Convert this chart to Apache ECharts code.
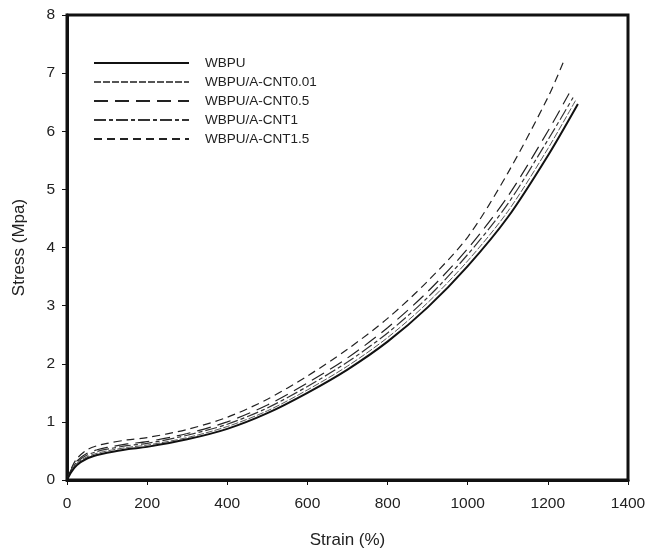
<!DOCTYPE html>
<html>
<head>
<meta charset="utf-8">
<script src="https://cdn.jsdelivr.net/npm/echarts@6/dist/echarts.min.js"></script>
<style>
  html, body { margin: 0; padding: 0; background: #fff; }
  #chart { width: 647px; height: 550px; }
</style>
</head>
<body>
<div id="chart"></div>
<script>
// strain points shared by every curve (%), the last point of each curve is its break strain
var strainBase = [0, 10, 25, 50, 75, 100, 150, 200, 300, 400, 500, 600, 700, 800, 900, 1000, 1100, 1200];
var breakStrain = [1275, 1270, 1253, 1263, 1238];

var names = ["WBPU", "WBPU/A-CNT0.01", "WBPU/A-CNT0.5", "WBPU/A-CNT1", "WBPU/A-CNT1.5"];

// stress (MPa)
var wbpu     = [0, 0.13, 0.26, 0.37, 0.43, 0.47, 0.53, 0.57, 0.70, 0.88, 1.15, 1.50, 1.90, 2.38, 2.97, 3.68, 4.52, 5.58, 6.47];
var cnt001   = [0, 0.15, 0.29, 0.40, 0.46, 0.50, 0.56, 0.60, 0.73, 0.92, 1.19, 1.55, 1.96, 2.45, 3.05, 3.77, 4.62, 5.70, 6.54];
var cnt05    = [0, 0.17, 0.33, 0.46, 0.52, 0.56, 0.62, 0.66, 0.80, 1.00, 1.29, 1.67, 2.10, 2.62, 3.24, 3.98, 4.88, 6.00, 6.65];
var cnt1     = [0, 0.16, 0.31, 0.43, 0.49, 0.53, 0.59, 0.63, 0.77, 0.96, 1.24, 1.61, 2.03, 2.53, 3.14, 3.88, 4.75, 5.85, 6.58];
var cnt15    = [0, 0.19, 0.37, 0.52, 0.59, 0.63, 0.69, 0.73, 0.87, 1.08, 1.39, 1.79, 2.25, 2.78, 3.42, 4.18, 5.28, 6.58, 7.18];

function pairs(stress, endStrain) {
  var xs = strainBase.concat([endStrain]);
  return stress.map(function (v, i) { return [xs[i], v]; });
}

var styles = [
  { width: 2, type: "solid", color: "#111" },
  { width: 1, type: [7, 2], color: "#555" },
  { width: 1.2, type: [14, 7], color: "#222" },
  { width: 1.2, type: [12, 3, 4, 3], color: "#333" },
  { width: 1.2, type: [8, 5], color: "#222" }
];
var allStress = [wbpu, cnt001, cnt05, cnt1, cnt15];

var font = "Liberation Sans, Arial, Helvetica, sans-serif";
var chart = echarts.init(document.getElementById("chart"));

chart.setOption({
  animation: false,
  backgroundColor: "#fff",
  grid: {
    left: 67,
    right: 19,
    top: 15,
    bottom: 70,
    outerBoundsMode: "none",
    containLabel: false,
    show: true,
    borderColor: "#111",
    borderWidth: 3
  },
  legend: {
    orient: "vertical",
    left: 88,
    top: 51,
    itemWidth: 95,
    itemHeight: 12,
    itemGap: 5,
    data: names,
    itemStyle: { opacity: 0 },
    textStyle: {
      fontFamily: font,
      fontSize: 13.5,
      color: "#222",
      padding: [0, 0, 0, 11]
    }
  },
  xAxis: {
    type: "value",
    min: 0,
    max: 1400,
    interval: 200,
    name: "Strain (%)",
    nameLocation: "middle",
    nameGap: 52,
    nameTextStyle: { fontFamily: font, fontSize: 17, color: "#222" },
    axisLine: { show: true, lineStyle: { color: "#111", width: 3 } },
    axisTick: { show: true, inside: false, length: 5, lineStyle: { color: "#111", width: 1 } },
    axisLabel: { fontFamily: font, fontSize: 15.5, color: "#222", margin: 16, formatter: function (v) { return String(v); } },
    splitLine: { show: false }
  },
  yAxis: {
    type: "value",
    min: 0,
    max: 8,
    interval: 1,
    name: "Stress (Mpa)",
    nameLocation: "middle",
    nameGap: 39,
    nameTextStyle: { fontFamily: font, fontSize: 17, color: "#222" },
    axisLine: { show: true, lineStyle: { color: "#111", width: 3 } },
    axisTick: { show: true, inside: false, length: 5, lineStyle: { color: "#111", width: 1 } },
    axisLabel: { fontFamily: font, fontSize: 15.5, color: "#222", margin: 12 },
    splitLine: { show: false }
  },
  series: names.map(function (n, i) {
    return {
      name: n,
      type: "line",
      smooth: 0.3,
      symbol: "none",
      z: 5 - i,
      lineStyle: styles[i],
      itemStyle: { color: styles[i].color },
      data: pairs(allStress[i], breakStrain[i])
    };
  })
});
</script>
</body>
</html>
